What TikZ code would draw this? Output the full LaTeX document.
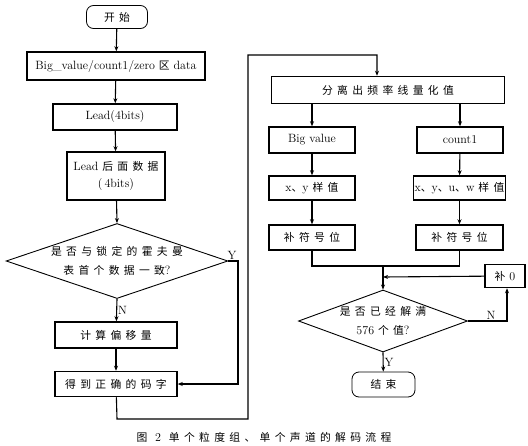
\documentclass[tikz,border=0pt]{standalone}
\usepackage{fontspec}
\newfontfamily\cjk[LetterSpace=40,Scale=0.9]{Noto Sans CJK SC}
\newcommand{\zh}[1]{{\cjk #1}}
\usetikzlibrary{shapes.geometric,arrows.meta}
\begin{document}
\begin{tikzpicture}[x=1pt,y=-1pt,>={Stealth[length=5pt,width=4pt]},line width=1.1pt]
 \tikzstyle{box}=[rectangle, draw, line width=1.5pt, inner sep=1pt, font=\fontsize{12}{17}\selectfont, align=center]
 \tikzstyle{term}=[box, rounded corners=7pt, line width=0.8pt]
 \tikzstyle{dec}=[diamond, draw, line width=0.9pt, inner sep=0pt, font=\fontsize{12}{19}\selectfont, align=center]
 \tikzstyle{lbl}=[font=\fontsize{12}{12}\selectfont, inner sep=1pt]
\useasboundingbox (0,0) rectangle (528,445);
% left column
\node[term, minimum width=61pt, minimum height=23pt] (start) at (117,17) {\zh{开始}};
\node[box, minimum width=178pt, minimum height=28pt] (bigv) at (116,66) {Big\_value/count1/zero \zh{区} data};
\node[box, minimum width=124pt, minimum height=26pt] (lead) at (115,117) {Lead(4bits)};
\node[box, minimum width=98pt, minimum height=48pt] (leaddata) at (116,176) {Lead \zh{后面数据}\\(\,4bits)};
\node[dec, aspect=3.1, minimum width=220pt, minimum height=75pt] (dec1) at (117,261) {\zh{是否与锁定的霍夫曼}\\\zh{表首个数据一致}?};
\node[box, minimum width=122pt, minimum height=26pt] (calc) at (116,335) {\zh{计算偏移量}};
\node[box, minimum width=122pt, minimum height=25pt] (code) at (116,384) {\zh{得到正确的码字}};
% right column
\node[box, minimum width=233pt, minimum height=27pt] (sep) at (388,90) {\zh{分离出频率线量化值}};
\node[box, minimum width=86pt, minimum height=26pt] (bigval) at (312,140) {Big value};
\node[box, minimum width=86pt, minimum height=26pt] (count) at (460,140) {count1};
\node[box, minimum width=86pt, minimum height=24pt] (xy) at (312,188) {x\zh{、}y \zh{样值}};
\node[box, minimum width=91pt, minimum height=24pt] (xyuw) at (459.5,188) {x\zh{、}y\zh{、}u\zh{、}w \zh{样值}};
\node[box, minimum width=86pt, minimum height=25pt] (sign1) at (312,237.5) {\zh{补符号位}};
\node[box, minimum width=87pt, minimum height=25pt] (sign2) at (459.5,237.5) {\zh{补符号位}};
\node[box, minimum width=40pt, minimum height=23pt] (pad) at (505,276) {\zh{补} 0};
\node[dec, aspect=2.7, minimum width=169pt, minimum height=62pt] (dec2) at (383,321) {\zh{是否已经解满}\\576 \zh{个值}?};
\node[term, minimum width=63pt, minimum height=25pt] (stop) at (383.5,384.5) {\zh{结束}};
\node[lbl] (cap) at (264,437) {\zh{图}\ \ 2\ \ \zh{单个粒度组、单个声道的解码流程}};
% helper points
\coordinate (yr) at (238,261);
\coordinate (lb) at (117,419);
\coordinate (rb) at (248,419);
\coordinate (rt) at (248,55);
\coordinate (st) at (377,55);
\coordinate (join) at (383,266);
\coordinate (padin) at (383,277);
\coordinate (nr) at (507,321);
% connectors
\draw[->] (start) -- (bigv);
\draw[->] (bigv) -- (lead);
\draw[->] (lead) -- (leaddata);
\draw[->] (leaddata) -- (dec1.north);
\draw[->] (dec1.south) -- node[lbl, right] {N} (calc);
\draw[->] (calc) -- (code);
\draw[->] (dec1.east) -- (yr) |- (code.east);
\node[lbl, above left] (ylab) at (yr) {Y};
\draw[->] (code) -- (lb) -- (rb) -- (rt) -- (st) -- (st |- sep.north);
\draw[->] (bigval.north |- sep.south) -- (bigval);
\draw[->] (count.north |- sep.south) -- (count);
\draw[->] (bigval) -- (xy);
\draw[->] (xy) -- (sign1);
\draw[->] (count) -- (xyuw);
\draw[->] (xyuw) -- (sign2);
\draw (sign1) -- (sign1 |- join) -- (sign2 |- join) -- (sign2);
\draw[->] (join) -- (dec2.north);
\draw[->] (pad) -- (padin);
\draw[->] (dec2.east) -- (nr) -- (nr |- pad.south);
\node[lbl, above left] (nlab) at ([xshift=-10pt]nr) {N};
\draw[->] (dec2.south) -- node[lbl, right] {Y} (stop);
\end{tikzpicture}
\end{document}
